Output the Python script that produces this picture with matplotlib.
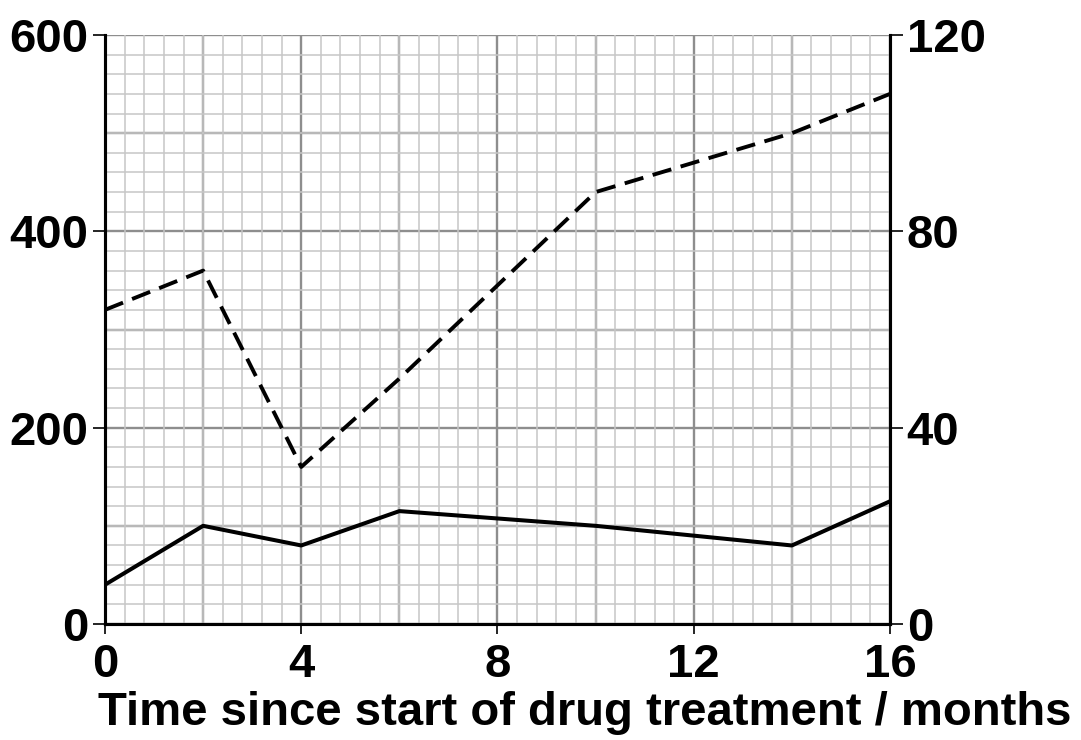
import numpy as np
import matplotlib.pyplot as plt
from matplotlib.ticker import MultipleLocator

# Months since start of treatment
months = [0, 2, 4, 6, 10, 14, 16]
# Dashed series, read against the left axis
left_series = [320, 360, 160, 250, 440, 500, 540]
# Solid series, read against the right axis
right_series = [8, 20, 16, 23, 20, 16, 25]

x_ticks = [0, 4, 8, 12, 16]
left_ticks = [0, 200, 400, 600]
right_ticks = [0, 40, 80, 120]

plt.rcParams['font.family'] = ['Liberation Sans', 'DejaVu Sans']
plt.rcParams['font.weight'] = 'bold'

W, H = 1081, 740
fig = plt.figure(figsize=(W / 100, H / 100), dpi=100)
ax = fig.add_axes([105 / W, (H - 624) / H, 785 / W, 589 / H])

ax.set_xlim(0, 16)
ax.set_ylim(0, 600)

# graph-paper grid
ax.xaxis.set_minor_locator(MultipleLocator(0.4))
ax.yaxis.set_minor_locator(MultipleLocator(20))
ax.grid(which='minor', color='#c6c6c6', linewidth=1.1, zorder=0)
ax.set_axisbelow(True)
for xv in np.arange(0, 16.1, 2):
    ax.axvline(xv, color='#8e8e8e', linewidth=1.7, zorder=0.5)
for yv in np.arange(0, 601, 100):
    ax.axhline(yv, color='#8e8e8e', linewidth=1.7, zorder=0.5)

ax.plot(months, left_series, color='black', linewidth=2.8,
        dashes=(5, 2.5), zorder=3)

ax2 = ax.twinx()
ax2.set_ylim(0, 120)
ax2.plot(months, right_series, color='black', linewidth=2.9, zorder=3)

for a in (ax, ax2):
    a.spines['top'].set_visible(False)
    for s in ('left', 'right', 'bottom'):
        a.spines[s].set_linewidth(2.2)
        a.spines[s].set_color('black')

ax.set_xticks(x_ticks)
ax.set_yticks(left_ticks)
ax2.set_yticks(right_ticks)
ax.tick_params(which='minor', length=0)
ax2.tick_params(which='minor', length=0)
ax.tick_params(axis='y', which='major', labelsize=34, width=1.2,
               length=9, pad=3, colors='black')
ax.tick_params(axis='x', which='major', labelsize=34, width=1.2,
               length=7, pad=7, colors='black')
ax2.tick_params(axis='y', which='major', labelsize=34, width=1.2,
                length=9, pad=3)

ax.set_xlabel('Time since start of drug treatment / months', fontsize=34,
              fontweight='bold')
ax.xaxis.set_label_coords(0.611, -0.113)
ax.xaxis.label.set_va('top')

fig.savefig('out.png', dpi=100)
